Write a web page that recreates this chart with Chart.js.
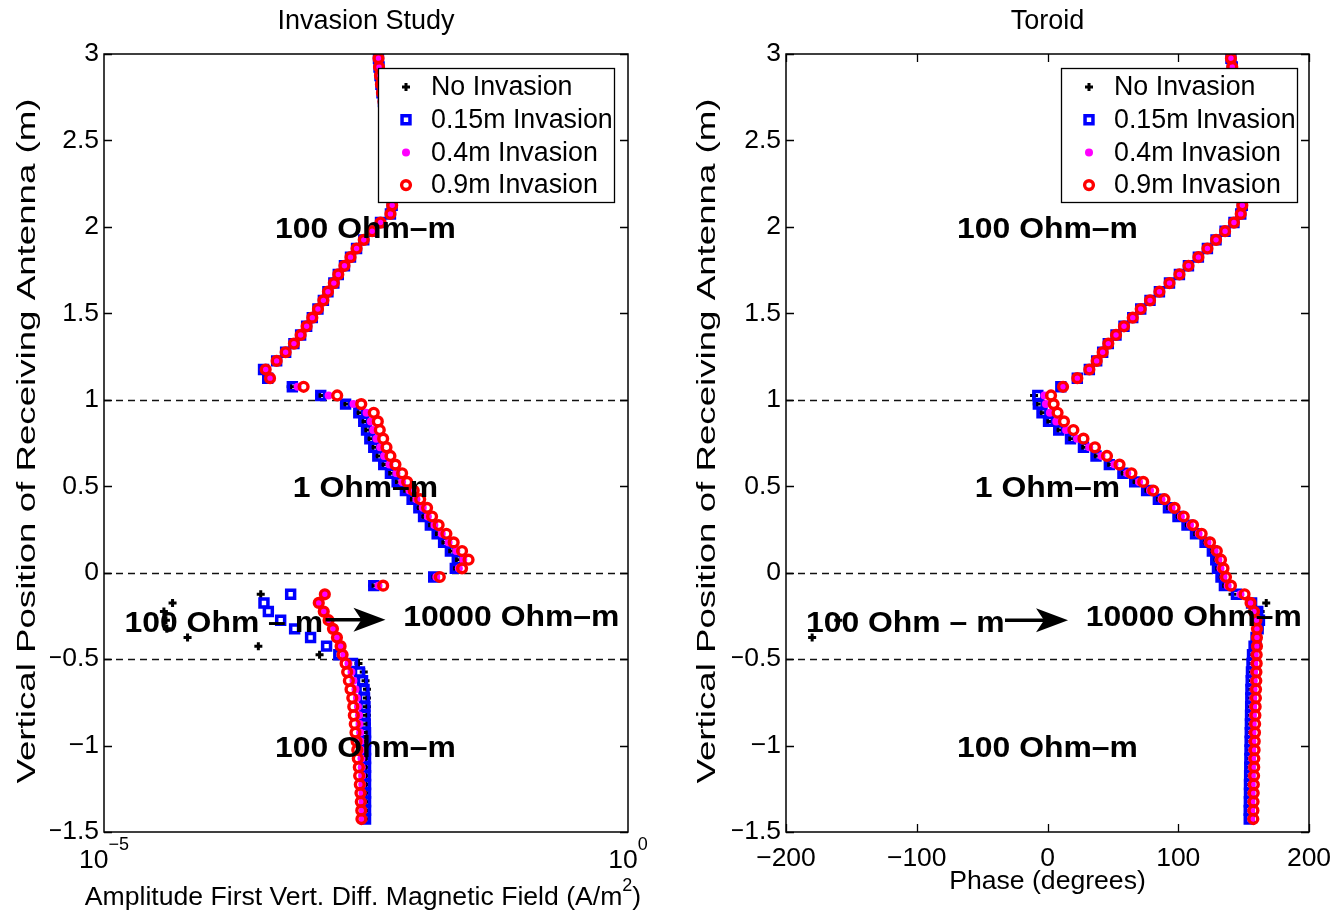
<!DOCTYPE html>
<html>
<head>
<meta charset="utf-8">
<script src="https://cdn.jsdelivr.net/npm/chart.js@4.4.1/dist/chart.umd.min.js"></script>
<style>
  html, body { margin: 0; padding: 0; background: #fff; }
  #wrap { position: relative; width: 1335px; height: 914px; }
  .panel { position: absolute; top: 0; height: 914px; }
</style>
</head>
<body>
<div id="wrap">
  <div class="panel" style="left:0;width:668px"><canvas id="amp" width="668" height="914"></canvas></div>
  <div class="panel" style="left:668px;width:667px"><canvas id="phase" width="667" height="914"></canvas></div>
</div>
<script>
// receiver positions (m), bottom to top
const depth = [
  -1.425, -1.375, -1.325, -1.275, -1.225, -1.175, -1.125, -1.075, -1.025, -0.975,
  -0.925, -0.875, -0.825, -0.775, -0.725, -0.675, -0.625, -0.575, -0.525, -0.475,
  -0.425, -0.375, -0.325, -0.275, -0.225, -0.175, -0.125, -0.075, -0.025, 0.025,
  0.075, 0.125, 0.175, 0.225, 0.275, 0.325, 0.375, 0.425, 0.475, 0.525,
  0.575, 0.625, 0.675, 0.725, 0.775, 0.825, 0.875, 0.925, 0.975, 1.025,
  1.075, 1.125, 1.175, 1.225, 1.275, 1.325, 1.375, 1.425, 1.475, 1.525,
  1.575, 1.625, 1.675, 1.725, 1.775, 1.825, 1.875, 1.925, 1.975, 2.025,
  2.075, 2.125, 2.175, 2.225, 2.275, 2.325, 2.375, 2.425, 2.475, 2.525,
  2.575, 2.625, 2.675, 2.725, 2.775, 2.825, 2.875, 2.925, 2.975
];

const seriesNames = ['No Invasion', '0.15m Invasion', '0.4m Invasion', '0.9m Invasion'];
const boundaries = [1, 0, -0.5];
const ampTicks = [1e-5, 1];
const ampTickExp = ['\u22125', '0'];

// amplitude (A/m^2)
const ampNone = [
  3.16e-3, 3.16e-3, 3.16e-3, 3.16e-3, 3.16e-3, 3.16e-3, 3.16e-3, 3.16e-3, 3.16e-3, 3.23e-3,
  3.23e-3, 3.23e-3, 3.23e-3, 3.23e-3, 3.23e-3, 3.23e-3, 3.13e-3, 3.01e-3, 2.68e-3, 1.14e-3,
  2.97e-4, 6.27e-5, 3.98e-5, 3.90e-5, 3.73e-5, 4.51e-5, 3.13e-4, 3.62e-3, 1.36e-2, 2.20e-2,
  2.30e-2, 1.98e-2, 1.70e-2, 1.48e-2, 1.27e-2, 1.10e-2, 9.88e-3, 8.52e-3, 7.35e-3, 6.13e-3,
  5.29e-3, 4.57e-3, 4.01e-3, 3.67e-3, 3.36e-3, 3.13e-3, 2.94e-3, 2.64e-3, 1.98e-3, 1.14e-3,
  6.04e-4, 3.84e-4, 3.49e-4, 4.44e-4, 5.41e-4, 6.49e-4, 7.52e-4, 8.58e-4, 9.72e-4, 1.10e-3,
  1.24e-3, 1.37e-3, 1.56e-3, 1.72e-3, 1.97e-3, 2.25e-3, 2.57e-3, 3.01e-3, 3.62e-3, 4.35e-3,
  5.41e-3, 5.62e-3, 5.78e-3, 5.91e-3, 5.91e-3, 5.85e-3, 5.72e-3, 5.59e-3, 5.47e-3, 5.29e-3,
  5.18e-3, 5.01e-3, 4.85e-3, 4.64e-3, 4.49e-3, 4.39e-3, 4.30e-3, 4.21e-3, 4.16e-3
];
const amp015 = [
  3.13e-3, 3.13e-3, 3.13e-3, 3.13e-3, 3.13e-3, 3.13e-3, 3.13e-3, 3.13e-3, 3.13e-3, 3.13e-3,
  3.13e-3, 3.11e-3, 3.09e-3, 3.09e-3, 3.06e-3, 3.03e-3, 2.93e-3, 2.74e-3, 2.35e-3, 1.74e-3,
  1.33e-3, 9.36e-4, 6.59e-4, 4.85e-4, 3.70e-4, 3.36e-4, 6.04e-4, 3.75e-3, 1.40e-2, 2.25e-2,
  2.35e-2, 2.02e-2, 1.74e-2, 1.51e-2, 1.30e-2, 1.12e-2, 1.01e-2, 8.71e-3, 7.52e-3, 6.27e-3,
  5.41e-3, 4.67e-3, 4.10e-3, 3.75e-3, 3.44e-3, 3.20e-3, 3.01e-3, 2.70e-3, 2.02e-3, 1.17e-3,
  6.27e-4, 3.65e-4, 3.33e-4, 4.44e-4, 5.41e-4, 6.49e-4, 7.52e-4, 8.58e-4, 9.72e-4, 1.10e-3,
  1.24e-3, 1.37e-3, 1.56e-3, 1.72e-3, 1.97e-3, 2.25e-3, 2.57e-3, 3.01e-3, 3.62e-3, 4.35e-3,
  5.41e-3, 5.62e-3, 5.78e-3, 5.91e-3, 5.91e-3, 5.85e-3, 5.72e-3, 5.59e-3, 5.47e-3, 5.29e-3,
  5.18e-3, 5.01e-3, 4.85e-3, 4.64e-3, 4.49e-3, 4.39e-3, 4.30e-3, 4.21e-3, 4.16e-3
];
const amp04 = [
  2.96e-3, 2.96e-3, 2.94e-3, 2.93e-3, 2.91e-3, 2.90e-3, 2.88e-3, 2.86e-3, 2.83e-3, 2.80e-3,
  2.78e-3, 2.74e-3, 2.71e-3, 2.65e-3, 2.59e-3, 2.51e-3, 2.40e-3, 2.30e-3, 2.15e-3, 1.96e-3,
  1.85e-3, 1.71e-3, 1.57e-3, 1.42e-3, 1.28e-3, 1.14e-3, 1.28e-3, 4.16e-3, 1.48e-2, 2.43e-2,
  2.68e-2, 2.30e-2, 1.94e-2, 1.67e-2, 1.42e-2, 1.23e-2, 1.10e-2, 9.57e-3, 8.21e-3, 6.99e-3,
  6.17e-3, 5.29e-3, 4.71e-3, 4.32e-3, 3.98e-3, 3.70e-3, 3.51e-3, 3.20e-3, 2.40e-3, 1.39e-3,
  7.04e-4, 3.84e-4, 3.49e-4, 4.44e-4, 5.41e-4, 6.49e-4, 7.52e-4, 8.58e-4, 9.72e-4, 1.10e-3,
  1.24e-3, 1.37e-3, 1.56e-3, 1.72e-3, 1.97e-3, 2.25e-3, 2.57e-3, 3.01e-3, 3.62e-3, 4.35e-3,
  5.41e-3, 5.62e-3, 5.78e-3, 5.91e-3, 5.91e-3, 5.85e-3, 5.72e-3, 5.59e-3, 5.47e-3, 5.29e-3,
  5.18e-3, 5.01e-3, 4.85e-3, 4.64e-3, 4.49e-3, 4.39e-3, 4.30e-3, 4.21e-3, 4.16e-3
];
const amp09 = [
  2.86e-3, 2.85e-3, 2.82e-3, 2.80e-3, 2.76e-3, 2.72e-3, 2.70e-3, 2.64e-3, 2.61e-3, 2.57e-3,
  2.51e-3, 2.47e-3, 2.42e-3, 2.39e-3, 2.34e-3, 2.25e-3, 2.17e-3, 2.09e-3, 2.02e-3, 1.89e-3,
  1.81e-3, 1.67e-3, 1.53e-3, 1.39e-3, 1.25e-3, 1.12e-3, 1.28e-3, 4.61e-3, 1.60e-2, 2.61e-2,
  3.01e-2, 2.61e-2, 2.17e-2, 1.85e-2, 1.56e-2, 1.35e-2, 1.21e-2, 1.04e-2, 9.02e-3, 7.81e-3,
  6.99e-3, 6.04e-3, 5.41e-3, 4.96e-3, 4.61e-3, 4.28e-3, 4.10e-3, 3.75e-3, 2.85e-3, 1.68e-3,
  8.03e-4, 3.84e-4, 3.49e-4, 4.44e-4, 5.41e-4, 6.49e-4, 7.52e-4, 8.58e-4, 9.72e-4, 1.10e-3,
  1.24e-3, 1.37e-3, 1.56e-3, 1.72e-3, 1.97e-3, 2.25e-3, 2.57e-3, 3.01e-3, 3.62e-3, 4.35e-3,
  5.41e-3, 5.62e-3, 5.78e-3, 5.91e-3, 5.91e-3, 5.85e-3, 5.72e-3, 5.59e-3, 5.47e-3, 5.29e-3,
  5.18e-3, 5.01e-3, 4.85e-3, 4.64e-3, 4.49e-3, 4.39e-3, 4.30e-3, 4.21e-3, 4.16e-3
];

// phase (degrees)
const phNone = [
  154.6, 154.6, 154.7, 154.8, 154.8, 154.9, 155.0, 155.1, 155.2, 155.3,
  155.4, 155.5, 155.6, 155.7, 155.8, 155.9, 156.1, 156.3, 156.8, 157.5,
  160.0, -180.0, 162.0, -160.0, 163.0, 167.3, 141.5, 134.5, 131.9, 129.2,
  127.9, 125.3, 119.7, 112.4, 105.9, 99.0, 91.7, 84.0, 75.0, 65.9,
  56.9, 46.5, 36.3, 26.7, 16.8, 7.8, 0.0, -5.0, -8.2, -10.3,
  9.5, 22.8, 32.0, 37.6, 42.2, 46.5, 52.4, 58.5, 65.2, 71.3,
  78.4, 85.6, 93.3, 100.9, 107.8, 115.4, 122.3, 128.9, 135.8, 142.6,
  147.8, 149.0, 150.2, 151.0, 151.4, 151.4, 151.0, 150.6, 150.2, 149.8,
  149.0, 148.2, 147.5, 146.3, 145.2, 144.0, 142.8, 141.3, 140.3
];
const ph015 = [
  154.3, 154.3, 154.4, 154.5, 154.5, 154.6, 154.7, 154.8, 154.9, 155.0,
  155.1, 155.2, 155.3, 155.4, 155.5, 155.6, 155.8, 156.0, 156.4, 156.8,
  158.0, 159.5, 161.1, 162.1, 160.8, 156.1, 144.5, 135.3, 132.7, 130.0,
  128.7, 126.1, 120.5, 113.2, 106.7, 99.8, 92.5, 84.8, 75.8, 66.7,
  57.7, 47.3, 37.1, 27.5, 17.6, 8.6, 0.8, -4.2, -7.0, -7.4,
  10.2, 22.8, 32.0, 37.6, 42.2, 46.5, 52.4, 58.5, 65.2, 71.3,
  78.4, 85.6, 93.3, 100.9, 107.8, 115.4, 122.3, 128.9, 135.8, 142.6,
  147.8, 149.0, 150.2, 151.0, 151.4, 151.4, 151.0, 150.6, 150.2, 149.8,
  149.0, 148.2, 147.5, 146.3, 145.2, 144.0, 142.8, 141.3, 140.3
];
const ph04 = [
  155.8, 155.8, 155.9, 156.0, 156.1, 156.2, 156.3, 156.4, 156.6, 156.7,
  156.8, 157.0, 157.1, 157.3, 157.4, 157.6, 157.8, 158.0, 158.2, 158.4,
  159.1, 159.9, 160.7, 161.0, 159.4, 155.7, 147.6, 137.8, 134.6, 132.3,
  130.7, 127.8, 122.4, 115.6, 109.0, 102.0, 94.9, 87.2, 78.4, 70.0,
  61.0, 51.2, 41.3, 31.9, 22.6, 14.2, 6.7, 1.8, -1.2, -2.4,
  11.0, 22.8, 32.0, 37.6, 42.2, 46.5, 52.4, 58.5, 65.2, 71.3,
  78.4, 85.6, 93.3, 100.9, 107.8, 115.4, 122.3, 128.9, 135.8, 142.6,
  147.8, 149.0, 150.2, 151.0, 151.4, 151.4, 151.0, 150.6, 150.2, 149.8,
  149.0, 148.2, 147.5, 146.3, 145.2, 144.0, 142.8, 141.3, 140.3
];
const ph09 = [
  157.4, 157.5, 157.6, 157.7, 157.8, 158.0, 158.1, 158.2, 158.4, 158.5,
  158.7, 158.8, 159.0, 159.2, 159.4, 159.5, 159.7, 159.8, 160.0, 160.0,
  160.2, 160.2, 160.2, 159.8, 157.9, 155.3, 150.7, 140.3, 136.5, 134.6,
  132.7, 129.5, 124.3, 117.9, 111.3, 104.2, 97.2, 89.5, 80.9, 73.2,
  64.2, 55.1, 45.5, 36.3, 27.5, 19.8, 12.6, 7.7, 4.7, 2.7,
  11.9, 22.8, 32.0, 37.6, 42.2, 46.5, 52.4, 58.5, 65.2, 71.3,
  78.4, 85.6, 93.3, 100.9, 107.8, 115.4, 122.3, 128.9, 135.8, 142.6,
  147.8, 149.0, 150.2, 151.0, 151.4, 151.4, 151.0, 150.6, 150.2, 149.8,
  149.0, 148.2, 147.5, 146.3, 145.2, 144.0, 142.8, 141.3, 140.3
];

const FONT = "'Liberation Sans', Arial, Helvetica, sans-serif";
Chart.defaults.font.family = FONT;

const markers = [
  { style: 'cross', radius: 4, width: 3, stroke: '#000000', fill: '#000000' },
  { style: 'rect', radius: 5.6, width: 3.5, stroke: '#0000ff', fill: 'rgba(0,0,0,0)' },
  { style: 'circle', radius: 4, width: 0, stroke: '#ff00ff', fill: '#ff00ff' },
  { style: 'circle', radius: 4.4, width: 3.4, stroke: '#ff0000', fill: 'rgba(0,0,0,0)' }
];

function minus(v) {
  return v < 0 ? '\u2212' + Math.abs(v) : String(v);
}

function makeDatasets(series) {
  return series.map((xs, k) => ({
    label: seriesNames[k],
    data: xs.map((x, i) => ({ x: x, y: depth[i] })),
    pointStyle: markers[k].style,
    pointRadius: markers[k].radius,
    pointBorderWidth: markers[k].width,
    pointBorderColor: markers[k].stroke,
    pointBackgroundColor: markers[k].fill,
    order: 4 - k
  }));
}

function drawMarker(ctx, m, x, y) {
  ctx.save();
  ctx.setLineDash([]);
  ctx.lineWidth = m.width;
  ctx.strokeStyle = m.stroke;
  ctx.fillStyle = m.fill;
  ctx.beginPath();
  if (m.style === 'cross') {
    ctx.moveTo(x - m.radius, y); ctx.lineTo(x + m.radius, y);
    ctx.moveTo(x, y - m.radius); ctx.lineTo(x, y + m.radius);
    ctx.stroke();
  } else if (m.style === 'rect') {
    const s = Math.SQRT1_2 * m.radius;
    ctx.rect(x - s, y - s, 2 * s, 2 * s);
    ctx.stroke();
  } else {
    ctx.arc(x, y, m.radius, 0, Math.PI * 2);
    ctx.fill();
    if (m.width > 0) ctx.stroke();
  }
  ctx.restore();
}

function stretchText(ctx, text, x, y, sx) {
  ctx.save();
  ctx.translate(x, y);
  ctx.scale(sx, 1);
  ctx.fillText(text, 0, 0);
  ctx.restore();
}

const decor = {
  id: 'decor',
  beforeDatasetsDraw(chart, args, o) {
    const { ctx, chartArea: a } = chart;
    const y = chart.scales.y;
    ctx.save();
    ctx.strokeStyle = '#111';
    ctx.lineWidth = 1.5;
    ctx.setLineDash([7, 5]);
    boundaries.forEach(v => {
      const py = Math.round(y.getPixelForValue(v)) + 0.5;
      ctx.beginPath();
      ctx.moveTo(a.left, py);
      ctx.lineTo(a.right, py);
      ctx.stroke();
    });
    ctx.restore();
  },
  afterDraw(chart, args, o) {
    const { ctx, chartArea: a } = chart;
    const xs = chart.scales.x, ys = chart.scales.y;
    ctx.save();
    ctx.fillStyle = '#000';
    ctx.strokeStyle = '#000';

    // inward tick marks
    ctx.lineWidth = 1.3;
    ys.ticks.forEach(t => {
      const py = Math.round(ys.getPixelForValue(t.value)) + 0.5;
      ctx.beginPath();
      ctx.moveTo(a.left, py); ctx.lineTo(a.left + 8, py);
      ctx.moveTo(a.right, py); ctx.lineTo(a.right - 8, py);
      ctx.stroke();
    });
    if (o.xTicks) {
      xs.ticks.forEach(t => {
        const px = Math.round(xs.getPixelForValue(t.value)) + 0.5;
        ctx.beginPath();
        ctx.moveTo(px, a.bottom); ctx.lineTo(px, a.bottom - 8);
        ctx.moveTo(px, a.top); ctx.lineTo(px, a.top + 8);
        ctx.stroke();
      });
    }

    // region labels
    ctx.font = 'bold 29px ' + FONT;
    ctx.textAlign = 'center';
    ctx.textBaseline = 'middle';
    o.notes.forEach(n => {
      stretchText(ctx, n.text, xs.getPixelForValue(n.x), ys.getPixelForValue(n.y) + 3, 1.1);
    });

    // arrow
    const ax1 = xs.getPixelForValue(o.arrow.x1), ax2 = xs.getPixelForValue(o.arrow.x2);
    const ay = ys.getPixelForValue(o.arrow.y);
    ctx.lineWidth = 3.5;
    ctx.beginPath();
    ctx.moveTo(ax1, ay); ctx.lineTo(ax2 - 20, ay);
    ctx.stroke();
    ctx.beginPath();
    ctx.moveTo(ax2, ay);
    ctx.lineTo(ax2 - 32, ay - 12);
    ctx.lineTo(ax2 - 24, ay);
    ctx.lineTo(ax2 - 32, ay + 12);
    ctx.closePath();
    ctx.fill();

    // legend
    const lw = 236, lh = 134;
    const lx = a.right - o.legendInset - lw, ly = a.top + 14;
    ctx.fillStyle = '#fff';
    ctx.fillRect(lx, ly, lw, lh);
    ctx.lineWidth = 1.3;
    ctx.strokeRect(lx + 0.5, ly + 0.5, lw, lh);
    ctx.fillStyle = '#000';
    ctx.font = '26.8px ' + FONT;
    ctx.textAlign = 'left';
    seriesNames.forEach((name, k) => {
      const ry = ly + 19 + k * 32.7;
      drawMarker(ctx, markers[k], lx + 28, ry);
      ctx.fillText(name, lx + 53, ry + 1);
    });

    // box
    ctx.lineWidth = 1.5;
    ctx.strokeRect(a.left, a.top, a.right - a.left, a.bottom - a.top);

    // title
    const cx = (a.left + a.right) / 2;
    ctx.textAlign = 'center';
    ctx.font = '27px ' + FONT;
    ctx.fillText(o.title, cx, 22);

    // x title
    ctx.font = '26.6px ' + FONT;
    if (o.xSup) {
      ctx.textAlign = 'left';
      const w1 = ctx.measureText(o.xTitle).width;
      ctx.font = '18px ' + FONT;
      const w2 = ctx.measureText(o.xSup).width;
      ctx.font = '26.6px ' + FONT;
      const w3 = ctx.measureText(o.xTail).width;
      let sx = o.xTitleX - (w1 + w2 + w3) / 2;
      ctx.fillText(o.xTitle, sx, o.xTitleY);
      ctx.font = '18px ' + FONT;
      ctx.fillText(o.xSup, sx + w1, o.xTitleY - 12);
      ctx.font = '26.6px ' + FONT;
      ctx.fillText(o.xTail, sx + w1 + w2, o.xTitleY);
    } else {
      ctx.fillText(o.xTitle, cx, o.xTitleY);
    }

    // log tick labels with exponents
    if (o.logLabels) {
      ctx.textAlign = 'left';
      ampTicks.forEach((v, i) => {
        const px = xs.getPixelForValue(v);
        ctx.font = '26.5px ' + FONT;
        const w1 = ctx.measureText('10').width;
        ctx.font = '18px ' + FONT;
        const w2 = ctx.measureText(ampTickExp[i]).width;
        const sx = px - (w1 + w2) / 2;
        ctx.font = '26.5px ' + FONT;
        ctx.fillText('10', sx, 861);
        ctx.font = '18px ' + FONT;
        ctx.fillText(ampTickExp[i], sx + w1, 845);
      });
    }

    // y title (rotated)
    ctx.translate(o.yTitleX, (a.top + a.bottom) / 2 - 2);
    ctx.rotate(-Math.PI / 2);
    ctx.font = '26px ' + FONT;
    ctx.textAlign = 'center';
    const wy = ctx.measureText(o.yTitle).width;
    ctx.scale(685 / wy, 1);
    ctx.fillText(o.yTitle, 0, 0);
    ctx.restore();
  }
};

const yAxis = {
  type: 'linear',
  min: -1.5,
  max: 3,
  grid: { display: false, drawTicks: false },
  border: { display: false },
  ticks: { stepSize: 0.5, font: { size: 26.5 }, color: '#000', padding: 5, callback: v => minus(v) },
  afterFit: s => { s.width = 54; }
};

new Chart(document.getElementById('amp'), {
  type: 'scatter',
  data: { datasets: makeDatasets([ampNone, amp015, amp04, amp09]) },
  options: {
    responsive: false,
    animation: false,
    events: [],
    layout: { padding: { left: 50, right: 40, top: 54, bottom: 82 } },
    scales: {
      x: { type: 'logarithmic', min: 1e-5, max: 1, display: false },
      y: yAxis
    },
    plugins: {
      legend: { display: false },
      tooltip: { enabled: false },
      decor: {
        title: 'Invasion Study',
        xTitle: 'Amplitude First Vert. Diff. Magnetic Field (A/m',
        xSup: '2',
        xTail: ')',
        xTitleX: 363,
        xTitleY: 898,
        yTitle: 'Vertical Position of Receiving Antenna (m)',
        yTitleX: 28,
        legendInset: 14,
        logLabels: true,
        xTicks: false,
        notes: [
          { text: '100 Ohm\u2013m', x: 3.13e-3, y: 2.0 },
          { text: '1 Ohm\u2013m', x: 3.13e-3, y: 0.5 },
          { text: '100 Ohm \u2013 m', x: 1.39e-4, y: -0.28 },
          { text: '10000 Ohm\u2013m', x: 7.7e-2, y: -0.245 },
          { text: '100 Ohm\u2013m', x: 3.13e-3, y: -1.0 }
        ],
        arrow: { x1: 1.3e-3, x2: 4.85e-3, y: -0.272 }
      }
    }
  },
  plugins: [decor]
});

new Chart(document.getElementById('phase'), {
  type: 'scatter',
  data: { datasets: makeDatasets([phNone, ph015, ph04, ph09]) },
  options: {
    responsive: false,
    animation: false,
    events: [],
    layout: { padding: { left: 64, right: 26, top: 54, bottom: 0 } },
    scales: {
      x: {
        type: 'linear',
        min: -200,
        max: 200,
        grid: { display: false, drawTicks: false },
        border: { display: false },
        ticks: { stepSize: 100, font: { size: 26.5 }, color: '#000', padding: 11, maxRotation: 0, autoSkip: false, callback: v => minus(v) },
        afterFit: s => { s.height = 82; s.paddingLeft = 0; s.paddingRight = 0; }
      },
      y: Object.assign({}, yAxis)
    },
    plugins: {
      legend: { display: false },
      tooltip: { enabled: false },
      decor: {
        title: 'Toroid',
        xTitle: 'Phase (degrees)',
        xTitleY: 882,
        yTitle: 'Vertical Position of Receiving Antenna (m)',
        yTitleX: 40,
        legendInset: 12,
        logLabels: false,
        xTicks: true,
        notes: [
          { text: '100 Ohm\u2013m', x: 0, y: 2.0 },
          { text: '1 Ohm\u2013m', x: 0, y: 0.5 },
          { text: '100 Ohm \u2013 m', x: -108.8, y: -0.28 },
          { text: '10000 Ohm\u2013m', x: 111.9, y: -0.245 },
          { text: '100 Ohm\u2013m', x: 0, y: -1.0 }
        ],
        arrow: { x1: -32.5, x2: 15.7, y: -0.275 }
      }
    }
  },
  plugins: [decor]
});
</script>
</body>
</html>
